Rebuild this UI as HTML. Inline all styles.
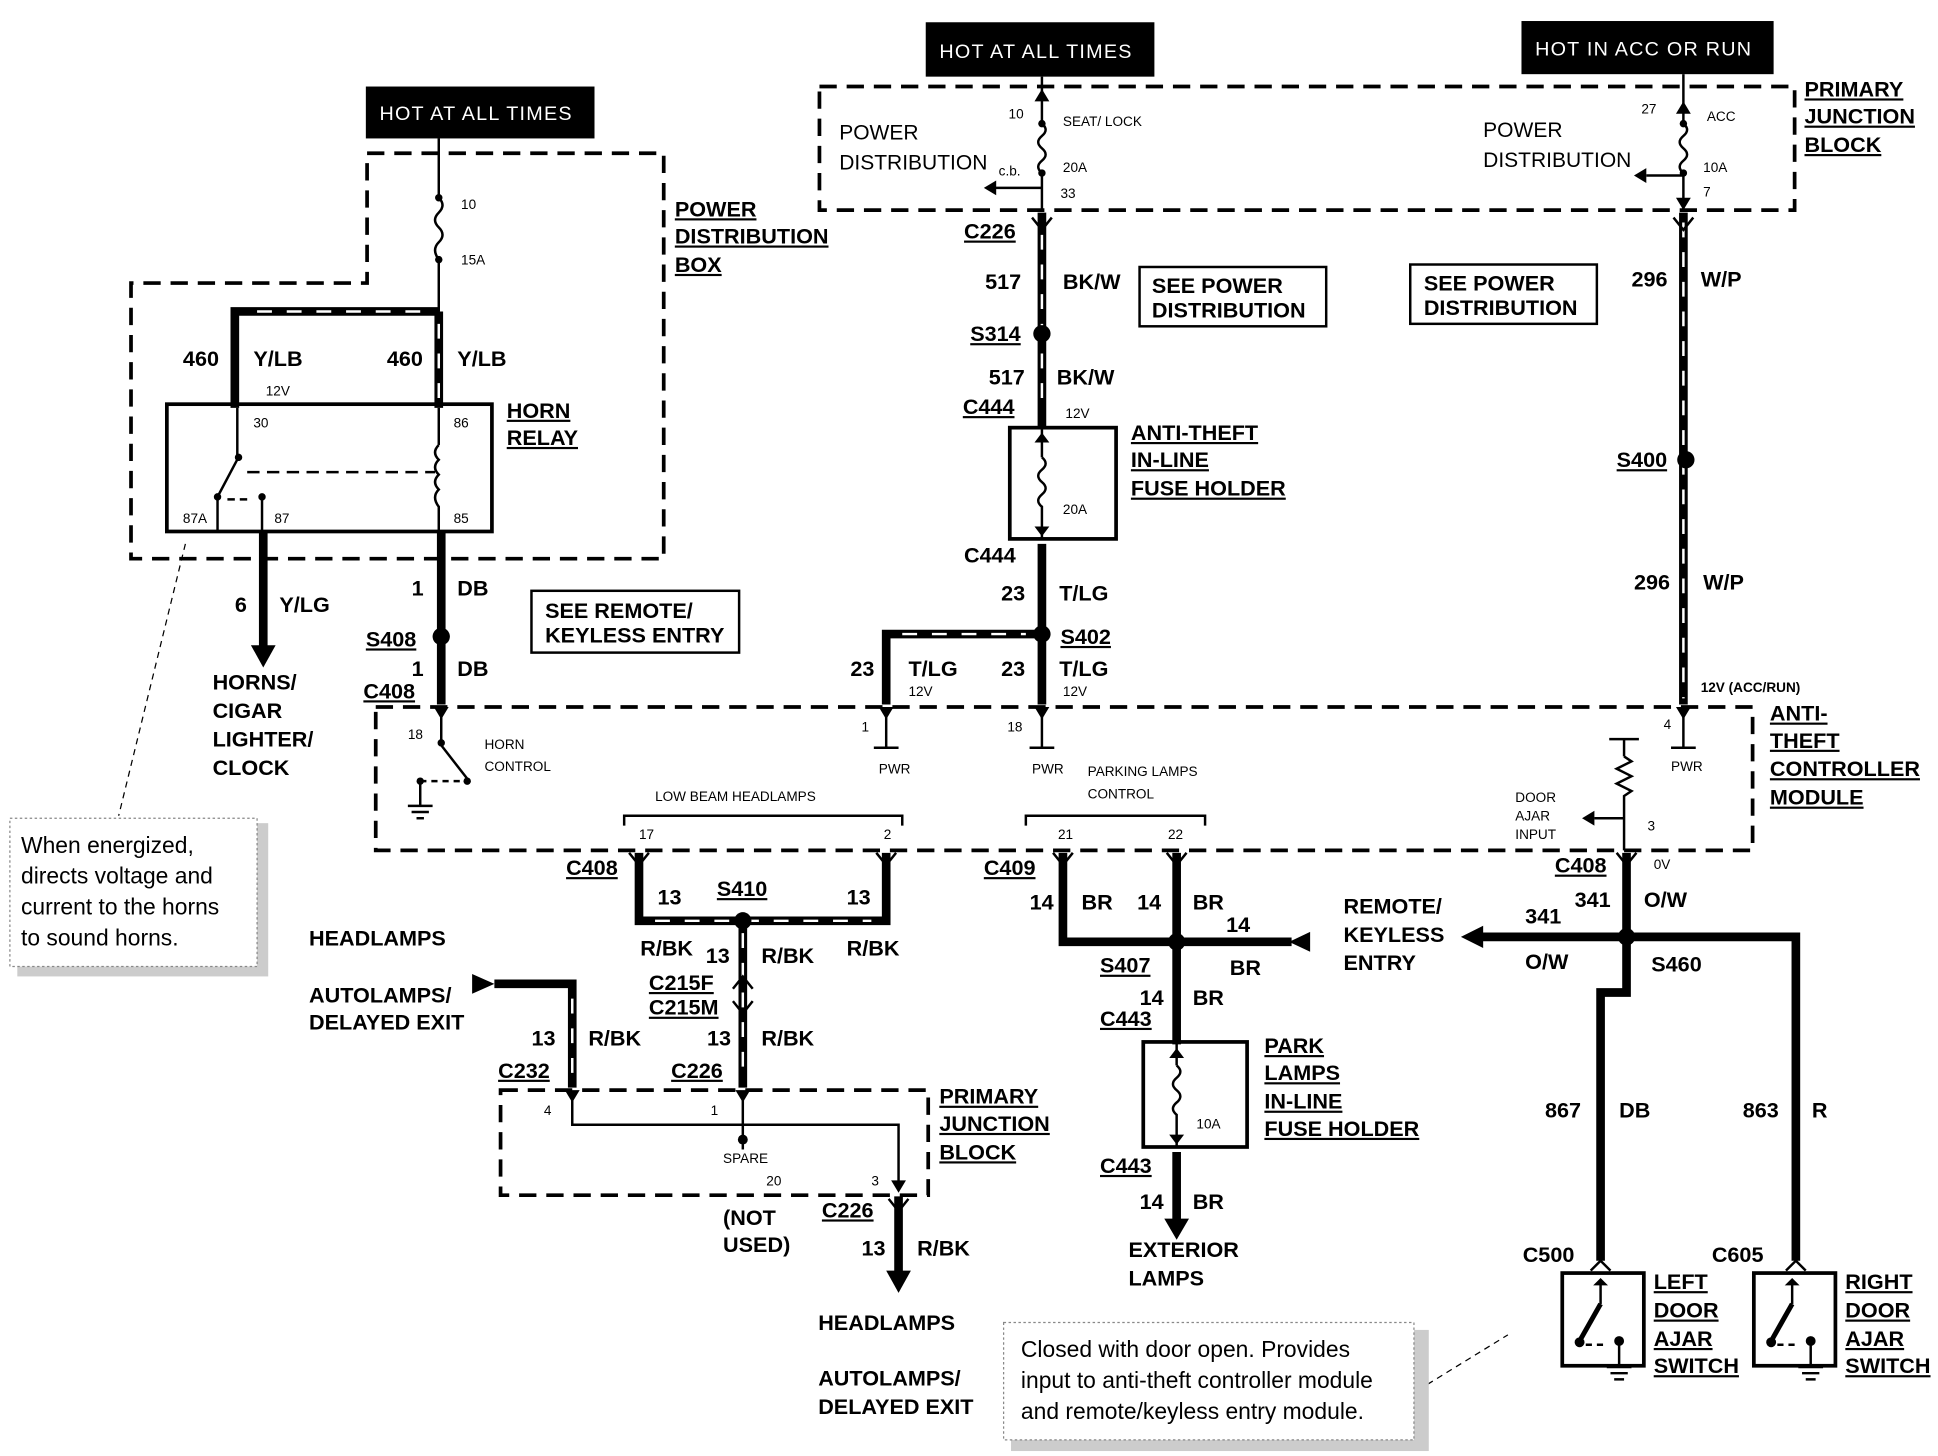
<!DOCTYPE html>
<html><head><meta charset="utf-8"><style>
html,body{margin:0;padding:0;background:#fff}
svg{display:block}
.b{font-family:"Liberation Sans",sans-serif;font-weight:bold;font-size:17.5px;fill:#000}
.u{text-decoration:underline}
.s{font-family:"Liberation Sans",sans-serif;font-size:11px;fill:#000}
.m{font-family:"Liberation Sans",sans-serif;font-size:17px;fill:#000}
.c{font-family:"Liberation Sans",sans-serif;font-size:18.5px;fill:#000}
.h{font-family:"Liberation Sans",sans-serif;font-size:16px;fill:#fff;letter-spacing:1px}
.w{stroke:#000;stroke-width:7;fill:none}
.wd{stroke:#fff;stroke-width:2;stroke-dasharray:12 12;fill:none}
.d{stroke:#000;stroke-width:3;stroke-dasharray:14 8;fill:none}
.t{stroke:#000;stroke-width:2;fill:none}
.bx{stroke:#000;stroke-width:3;fill:none}
</style></head><body>
<svg width="1938" height="1456" viewBox="0 0 1568 1178" xmlns="http://www.w3.org/2000/svg">
<rect width="1568" height="1178" fill="#fff"/>
<rect x="296" y="70" width="185" height="42" fill="#000"/><text class="h" x="307" y="97">HOT AT ALL TIMES</text>
<rect x="749" y="18" width="185" height="44" fill="#000"/><text class="h" x="760" y="47">HOT AT ALL TIMES</text>
<rect x="1231" y="17" width="204" height="43" fill="#000"/><text class="h" x="1242" y="45">HOT IN ACC OR RUN</text>

<polyline class="d" points="297,124 537,124 537,452 106,452 106,229 297,229 297,124"/>
<text class="b u" x="546" y="175">POWER</text><text class="b u" x="546" y="197">DISTRIBUTION</text><text class="b u" x="546" y="220">BOX</text>
<line class="t" x1="355" y1="112" x2="355" y2="160"/>
<circle cx="355" cy="160" r="3"/><circle cx="355" cy="210" r="3"/>
<path class="t" d="M355,160 q6,6 0,12 q-6,6 0,12 q6,6 0,12 q-6,6 0,14"/>
<text class="s" x="373" y="169">10</text><text class="s" x="373" y="214">15A</text>
<line class="t" x1="355" y1="210" x2="355" y2="252"/>
<polyline class="w" points="355,252 190,252 190,330"/>
<line class="w" x1="355" y1="252" x2="355" y2="330"/>
<polyline class="wd" points="340,252 200,252"/><line class="wd" x1="355" y1="262" x2="355" y2="326"/>
<text class="b" x="148" y="296">460</text><text class="b" x="205" y="296">Y/LB</text><text class="s" x="215" y="320">12V</text>
<text class="b" x="313" y="296">460</text><text class="b" x="370" y="296">Y/LB</text>
<rect class="bx" x="135" y="327" width="263" height="103"/>
<text class="b u" x="410" y="338">HORN</text><text class="b u" x="410" y="360">RELAY</text>
<text class="s" x="205" y="346">30</text><text class="s" x="367" y="346">86</text>
<text class="s" x="148" y="423">87A</text><text class="s" x="222" y="423">87</text><text class="s" x="367" y="423">85</text>
<line class="t" x1="192" y1="330" x2="192" y2="370"/><line class="t" x1="194" y1="368" x2="176" y2="402"/>
<circle cx="193" cy="370" r="3"/><circle cx="176" cy="402" r="3"/><circle cx="212" cy="402" r="3"/>
<line class="t" x1="176" y1="402" x2="176" y2="430"/><line class="t" x1="212" y1="402" x2="212" y2="430"/>
<line class="t" x1="184" y1="404" x2="200" y2="404" stroke-dasharray="6 4"/>
<line class="t" x1="200" y1="382" x2="352" y2="382" stroke-dasharray="10 6"/>
<line class="t" x1="355" y1="330" x2="355" y2="360"/>
<path class="t" d="M355,360 q-6,6 0,12 q-6,6 0,12 q-6,6 0,12 q-6,6 0,14 L355,430"/>
<line class="w" x1="213" y1="430" x2="213" y2="525"/><polygon points="203,522 223,522 213,540"/>
<text class="b" x="190" y="495">6</text><text class="b" x="226" y="495">Y/LG</text>
<line class="w" x1="357" y1="430" x2="357" y2="570"/>
<circle cx="357" cy="515" r="7"/>
<text class="b" x="333" y="482">1</text><text class="b" x="370" y="482">DB</text>
<text class="b u" x="296" y="523">S408</text>
<text class="b" x="333" y="547">1</text><text class="b" x="370" y="547">DB</text>
<text class="b u" x="294" y="565">C408</text>
<rect class="t" x="430" y="478" width="168" height="50"/>
<text class="b" x="441" y="500">SEE REMOTE/</text><text class="b" x="441" y="520">KEYLESS ENTRY</text>
<text class="b" x="172" y="558">HORNS/</text><text class="b" x="172" y="581">CIGAR</text><text class="b" x="172" y="604">LIGHTER/</text><text class="b" x="172" y="627">CLOCK</text>
<line x1="150" y1="440" x2="96" y2="660" stroke="#000" stroke-width="1" stroke-dasharray="5 4"/>
<rect x="14" y="666" width="203" height="124" fill="#ccc"/>
<rect x="8" y="662" width="200" height="120" fill="#fff" stroke="#888" stroke-dasharray="2 2"/>
<text class="c" x="17" y="690">When energized,</text><text class="c" x="17" y="715">directs voltage and</text><text class="c" x="17" y="740">current to the horns</text><text class="c" x="17" y="765">to sound horns.</text>

<rect class="d" x="663" y="70" width="789" height="100"/>
<text class="b u" x="1460" y="78">PRIMARY</text><text class="b u" x="1460" y="100">JUNCTION</text><text class="b u" x="1460" y="123">BLOCK</text>
<text class="m" x="679" y="113">POWER</text><text class="m" x="679" y="137">DISTRIBUTION</text>
<line class="t" x1="843" y1="62" x2="843" y2="100"/><polygon points="837,82 849,82 843,72"/>
<circle cx="843" cy="100" r="3"/><circle cx="843" cy="140" r="3"/>
<path class="t" d="M843,100 q6,5 0,10 q-6,5 0,10 q6,5 0,10 q-6,5 0,10"/>
<line class="t" x1="843" y1="140" x2="843" y2="170"/><line class="t" x1="843" y1="152" x2="805" y2="152"/><polygon points="796,152 806,146 806,158"/>
<text class="s" x="816" y="96">10</text><text class="s" x="860" y="102">SEAT/ LOCK</text><text class="s" x="860" y="139">20A</text><text class="s" x="858" y="160">33</text><text class="s" x="808" y="142">c.b.</text>
<text class="m" x="1200" y="111">POWER</text><text class="m" x="1200" y="135">DISTRIBUTION</text>
<line class="t" x1="1362" y1="60" x2="1362" y2="100"/><polygon points="1356,92 1368,92 1362,82"/>
<circle cx="1362" cy="100" r="3"/><circle cx="1362" cy="140" r="3"/>
<path class="t" d="M1362,100 q6,5 0,10 q-6,5 0,10 q6,5 0,10 q-6,5 0,10"/>
<line class="t" x1="1362" y1="140" x2="1362" y2="170"/><polygon points="1356,160 1368,160 1362,170"/>
<line class="t" x1="1362" y1="142" x2="1332" y2="142"/><polygon points="1322,142 1332,136 1332,148"/>
<text class="s" x="1328" y="92">27</text><text class="s" x="1381" y="98">ACC</text><text class="s" x="1378" y="139">10A</text><text class="s" x="1378" y="159">7</text>

<line class="w" x1="843" y1="172" x2="843" y2="346"/>
<line class="wd" x1="843" y1="190" x2="843" y2="330"/>
<path class="t" d="M835,176 l8,10 l8,-10"/>
<text class="b u" x="780" y="193">C226</text>
<text class="b" x="797" y="234">517</text><text class="b" x="860" y="234">BK/W</text>
<circle cx="843" cy="270" r="7"/><text class="b u" x="785" y="276">S314</text>
<text class="b" x="800" y="311">517</text><text class="b" x="855" y="311">BK/W</text>
<text class="b u" x="779" y="335">C444</text><text class="s" x="862" y="338">12V</text>
<rect class="bx" x="817" y="346" width="86" height="90"/>
<text class="b u" x="915" y="356">ANTI-THEFT</text><text class="b u" x="915" y="378">IN-LINE</text><text class="b u" x="915" y="401">FUSE HOLDER</text>
<line class="t" x1="843" y1="346" x2="843" y2="370"/><polygon points="837,358 849,358 843,350"/>
<path class="t" d="M843,370 q6,5 0,10 q-6,5 0,10 q6,5 0,10 q-6,5 0,10 L843,436"/><polygon points="837,426 849,426 843,434"/>
<text class="s" x="860" y="416">20A</text>
<text class="b" x="780" y="455">C444</text>
<line class="w" x1="843" y1="440" x2="843" y2="570"/>
<text class="b" x="810" y="486">23</text><text class="b" x="857" y="486">T/LG</text>
<polyline class="w" points="843,513 717,513 717,570"/><line class="wd" x1="730" y1="513" x2="830" y2="513"/>
<circle cx="843" cy="513" r="7"/><text class="b u" x="858" y="521">S402</text>
<text class="b" x="688" y="547">23</text><text class="b" x="735" y="547">T/LG</text><text class="s" x="735" y="563">12V</text>
<text class="b" x="810" y="547">23</text><text class="b" x="857" y="547">T/LG</text><text class="s" x="860" y="563">12V</text>
<rect class="t" x="922" y="216" width="151" height="48"/><text class="b" x="932" y="237">SEE POWER</text><text class="b" x="932" y="257">DISTRIBUTION</text>
<rect class="t" x="1141" y="214" width="151" height="48"/><text class="b" x="1152" y="235">SEE POWER</text><text class="b" x="1152" y="255">DISTRIBUTION</text>

<line class="w" x1="1362" y1="172" x2="1362" y2="570"/>
<line class="wd" x1="1362" y1="180" x2="1362" y2="565" stroke-dasharray="20 14"/>
<path class="t" d="M1354,176 l8,10 l8,-10"/>
<text class="b" x="1320" y="232">296</text><text class="b" x="1376" y="232">W/P</text>
<circle cx="1364" cy="372" r="7"/><text class="b u" x="1308" y="378">S400</text>
<text class="b" x="1322" y="477">296</text><text class="b" x="1378" y="477">W/P</text>
<text class="s" x="1376" y="560" font-weight="bold">12V (ACC/RUN)</text>

<rect class="d" x="304" y="572" width="1114" height="116"/>
<text class="b u" x="1432" y="583">ANTI-</text><text class="b u" x="1432" y="605">THEFT</text><text class="b u" x="1432" y="628">CONTROLLER</text><text class="b u" x="1432" y="651">MODULE</text>
<polygon points="351,572 363,572 357,582"/>
<line class="t" x1="357" y1="578" x2="357" y2="600"/><circle cx="357" cy="601" r="3"/>
<line class="t" x1="357" y1="603" x2="378" y2="630"/><circle cx="378" cy="632" r="3"/>
<line class="t" x1="340" y1="632" x2="372" y2="632" stroke-dasharray="5 4"/>
<line class="t" x1="340" y1="632" x2="340" y2="652"/><circle cx="340" cy="632" r="3"/>
<line class="t" x1="330" y1="652" x2="350" y2="652"/><line class="t" x1="333" y1="657" x2="347" y2="657"/><line class="t" x1="337" y1="662" x2="343" y2="662"/>
<text class="s" x="330" y="598">18</text><text class="s" x="392" y="606">HORN</text><text class="s" x="392" y="624">CONTROL</text>
<polygon points="711,572 723,572 717,582"/><line class="t" x1="717" y1="578" x2="717" y2="605"/><line class="t" x1="707" y1="605" x2="727" y2="605"/>
<text class="s" x="697" y="592">1</text><text class="s" x="711" y="626">PWR</text>
<polygon points="837,572 849,572 843,582"/><line class="t" x1="843" y1="578" x2="843" y2="605"/><line class="t" x1="833" y1="605" x2="853" y2="605"/>
<text class="s" x="815" y="592">18</text><text class="s" x="835" y="626">PWR</text>
<text class="s" x="880" y="628">PARKING LAMPS</text><text class="s" x="880" y="646">CONTROL</text>
<polygon points="1356,572 1368,572 1362,582"/><line class="t" x1="1362" y1="578" x2="1362" y2="605"/><line class="t" x1="1352" y1="605" x2="1372" y2="605"/>
<text class="s" x="1346" y="590">4</text><text class="s" x="1352" y="624">PWR</text>
<line class="t" x1="1302" y1="598" x2="1326" y2="598"/><line class="t" x1="1314" y1="598" x2="1314" y2="612"/>
<path class="t" d="M1314,612 l6,4 l-12,6 l12,6 l-12,6 l12,6 l-6,4 L1314,688"/>
<line class="t" x1="1314" y1="662" x2="1290" y2="662"/><polygon points="1280,662 1290,656 1290,668"/>
<text class="s" x="1226" y="649">DOOR</text><text class="s" x="1226" y="664">AJAR</text><text class="s" x="1226" y="679">INPUT</text><text class="s" x="1333" y="672">3</text>
<text class="s" x="530" y="648">LOW BEAM HEADLAMPS</text>
<polyline class="t" points="505,668 505,660 730,660 730,668"/>
<text class="s" x="517" y="679">17</text><text class="s" x="715" y="679">2</text>
<polyline class="t" points="830,668 830,660 975,660 975,668"/>
<text class="s" x="856" y="679">21</text><text class="s" x="945" y="679">22</text>

<text class="b u" x="458" y="708">C408</text>
<polyline class="w" points="517,690 517,745 717,745 717,690"/>
<line class="wd" x1="530" y1="745" x2="705" y2="745"/>
<path class="t" d="M509,690 l8,10 l8,-10 M709,690 l8,10 l8,-10"/>
<text class="b" x="532" y="732">13</text><text class="b u" x="580" y="725">S410</text><text class="b" x="685" y="732">13</text>
<circle cx="601" cy="745" r="7"/>
<line class="w" x1="601" y1="745" x2="601" y2="880"/><line class="wd" x1="601" y1="755" x2="601" y2="875"/>
<path class="t" d="M593,800 l8,-10 l8,10 M593,810 l8,10 l8,-10"/>
<text class="b" x="518" y="773">R/BK</text><text class="b" x="571" y="779">13</text><text class="b" x="616" y="779">R/BK</text><text class="b" x="685" y="773">R/BK</text>
<text class="b u" x="525" y="801">C215F</text><text class="b u" x="525" y="821">C215M</text>
<text class="b" x="572" y="846">13</text><text class="b" x="616" y="846">R/BK</text><text class="b u" x="543" y="872">C226</text>
<text class="b" x="250" y="765">HEADLAMPS</text><text class="b" x="250" y="811">AUTOLAMPS/</text><text class="b" x="250" y="833">DELAYED EXIT</text>
<polygon points="382,788 382,804 400,796"/>
<polyline class="w" points="400,796 463,796 463,880"/><line class="wd" x1="463" y1="808" x2="463" y2="875"/>
<text class="b" x="430" y="846">13</text><text class="b" x="476" y="846">R/BK</text><text class="b u" x="403" y="872">C232</text>
<rect class="d" x="405" y="882" width="346" height="85"/>
<text class="b u" x="760" y="893">PRIMARY</text><text class="b u" x="760" y="915">JUNCTION</text><text class="b u" x="760" y="938">BLOCK</text>
<polygon points="457,882 469,882 463,892"/><polygon points="595,882 607,882 601,892"/>
<polyline class="t" points="463,890 463,910 727,910 727,962"/><line class="t" x1="601" y1="890" x2="601" y2="930"/>
<circle cx="601" cy="922" r="4"/><polygon points="721,955 733,955 727,965"/>
<text class="s" x="440" y="902">4</text><text class="s" x="575" y="902">1</text><text class="s" x="585" y="941">SPARE</text><text class="s" x="620" y="959">20</text><text class="s" x="705" y="959">3</text>
<text class="b" x="585" y="991">(NOT</text><text class="b" x="585" y="1013">USED)</text><text class="b u" x="665" y="985">C226</text>
<line class="w" x1="727" y1="968" x2="727" y2="1030"/><polygon points="717,1028 737,1028 727,1046"/>
<path class="t" d="M719,970 l8,10 l8,-10"/>
<text class="b" x="697" y="1016">13</text><text class="b" x="742" y="1016">R/BK</text>
<text class="b" x="662" y="1076">HEADLAMPS</text><text class="b" x="662" y="1121">AUTOLAMPS/</text><text class="b" x="662" y="1144">DELAYED EXIT</text>

<text class="b u" x="796" y="708">C409</text>
<polyline class="w" points="860,690 860,762 952,762"/>
<line class="w" x1="952" y1="690" x2="952" y2="845"/>
<line class="w" x1="952" y1="762" x2="1045" y2="762"/><polygon points="1043,762 1060,754 1060,770"/>
<path class="t" d="M852,690 l8,10 l8,-10 M944,690 l8,10 l8,-10"/>
<circle cx="952" cy="762" r="7"/>
<text class="b" x="833" y="736">14</text><text class="b" x="875" y="736">BR</text><text class="b" x="920" y="736">14</text><text class="b" x="965" y="736">BR</text>
<text class="b" x="992" y="754">14</text><text class="b" x="995" y="789">BR</text><text class="b u" x="890" y="787">S407</text>
<text class="b" x="922" y="813">14</text><text class="b" x="965" y="813">BR</text><text class="b u" x="890" y="830">C443</text>
<rect class="bx" x="925" y="843" width="84" height="85"/>
<line class="t" x1="952" y1="843" x2="952" y2="862"/><polygon points="946,856 958,856 952,848"/>
<path class="t" d="M952,862 q6,5 0,10 q-6,5 0,10 q6,5 0,10 q-6,5 0,10 L952,928"/><polygon points="946,918 958,918 952,926"/>
<text class="s" x="968" y="913">10A</text>
<text class="b u" x="1023" y="852">PARK</text><text class="b u" x="1023" y="874">LAMPS</text><text class="b u" x="1023" y="897">IN-LINE</text><text class="b u" x="1023" y="919">FUSE HOLDER</text>
<text class="b u" x="890" y="949">C443</text>
<line class="w" x1="952" y1="932" x2="952" y2="988"/><polygon points="942,986 962,986 952,1003"/>
<text class="b" x="922" y="978">14</text><text class="b" x="965" y="978">BR</text>
<text class="b" x="913" y="1017">EXTERIOR</text><text class="b" x="913" y="1040">LAMPS</text>

<text class="b u" x="1258" y="706">C408</text><text class="s" x="1338" y="703">0V</text>
<line class="w" x1="1316" y1="690" x2="1316" y2="760"/>
<path class="t" d="M1308,690 l8,10 l8,-10"/>
<text class="b" x="1274" y="734">341</text><text class="b" x="1330" y="734">O/W</text>
<text class="b" x="1087" y="739">REMOTE/</text><text class="b" x="1087" y="762">KEYLESS</text><text class="b" x="1087" y="785">ENTRY</text>
<line class="w" x1="1316" y1="758" x2="1198" y2="758"/><polygon points="1182,758 1200,749 1200,767"/>
<text class="b" x="1234" y="747">341</text><text class="b" x="1234" y="784">O/W</text>
<circle cx="1316" cy="758" r="7"/><text class="b" x="1336" y="786">S460</text>
<polyline class="w" points="1316,758 1316,803 1295,803 1295,1020"/>
<polyline class="w" points="1316,758 1453,758 1453,1020"/>
<text class="b" x="1250" y="904">867</text><text class="b" x="1310" y="904">DB</text><text class="b" x="1410" y="904">863</text><text class="b" x="1466" y="904">R</text>
<text class="b" x="1232" y="1021">C500</text><text class="b" x="1385" y="1021">C605</text>
<path class="t" d="M1287,1028 l8,-8 l8,8 M1445,1028 l8,-8 l8,8"/>
<g>
<rect class="bx" x="1264" y="1030" width="66" height="75"/>
<polygon points="1289,1040 1301,1040 1295,1034"/><line class="t" x1="1295" y1="1038" x2="1295" y2="1055"/>
<line x1="1295" y1="1055" x2="1278" y2="1085" stroke="#000" stroke-width="4"/><circle cx="1278" cy="1086" r="4"/>
<line class="t" x1="1283" y1="1088" x2="1300" y2="1088" stroke-dasharray="5 4"/><circle cx="1310" cy="1085" r="4"/>
<line class="t" x1="1310" y1="1085" x2="1310" y2="1105"/><line class="t" x1="1300" y1="1106" x2="1320" y2="1106"/><line class="t" x1="1303" y1="1111" x2="1317" y2="1111"/><line class="t" x1="1306" y1="1116" x2="1314" y2="1116"/>
</g>
<g transform="translate(155,0)">
<rect class="bx" x="1264" y="1030" width="66" height="75"/>
<polygon points="1289,1040 1301,1040 1295,1034"/><line class="t" x1="1295" y1="1038" x2="1295" y2="1055"/>
<line x1="1295" y1="1055" x2="1278" y2="1085" stroke="#000" stroke-width="4"/><circle cx="1278" cy="1086" r="4"/>
<line class="t" x1="1283" y1="1088" x2="1300" y2="1088" stroke-dasharray="5 4"/><circle cx="1310" cy="1085" r="4"/>
<line class="t" x1="1310" y1="1085" x2="1310" y2="1105"/><line class="t" x1="1300" y1="1106" x2="1320" y2="1106"/><line class="t" x1="1303" y1="1111" x2="1317" y2="1111"/><line class="t" x1="1306" y1="1116" x2="1314" y2="1116"/>
</g>
<text class="b u" x="1338" y="1043">LEFT</text><text class="b u" x="1338" y="1066">DOOR</text><text class="b u" x="1338" y="1089">AJAR</text><text class="b u" x="1338" y="1111">SWITCH</text>
<text class="b u" x="1493" y="1043">RIGHT</text><text class="b u" x="1493" y="1066">DOOR</text><text class="b u" x="1493" y="1089">AJAR</text><text class="b u" x="1493" y="1111">SWITCH</text>
<line x1="1155" y1="1120" x2="1220" y2="1080" stroke="#000" stroke-width="1" stroke-dasharray="5 4"/>
<rect x="818" y="1076" width="338" height="98" fill="#ccc"/>
<rect x="812" y="1070" width="332" height="95" fill="#fff" stroke="#888" stroke-dasharray="2 2"/>
<text class="c" x="826" y="1098">Closed with door open.  Provides</text>
<text class="c" x="826" y="1123">input to anti-theft controller module</text>
<text class="c" x="826" y="1148">and remote/keyless entry module.</text>
</svg>
</body></html>
